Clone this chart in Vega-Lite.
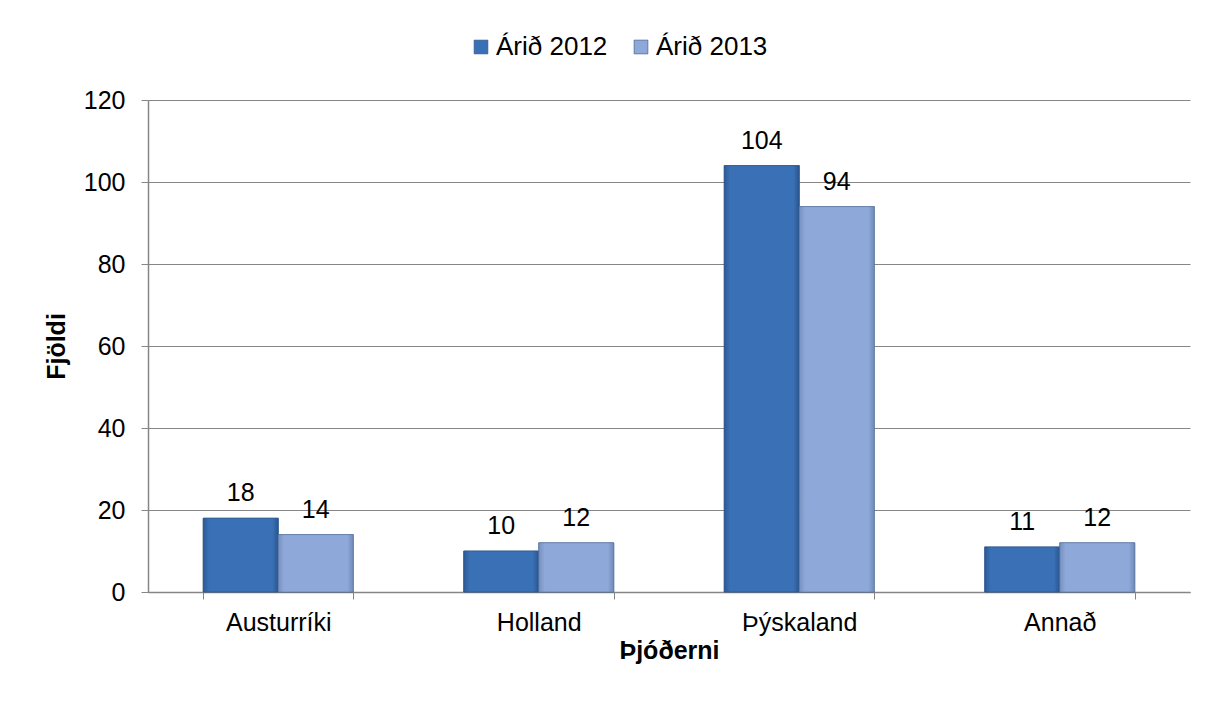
{
  "$schema": "https://vega.github.io/schema/vega-lite/v6.json",
  "autosize": "none",
  "width": 1042,
  "height": 492,
  "padding": {"left": 148, "top": 100, "right": 25, "bottom": 110},
  "background": "white",
  "config": {
    "font": "Liberation Sans",
    "view": {"stroke": null},
    "axis": {"labelFont": "Liberation Sans", "titleFont": "Liberation Sans", "labelColor": "#000", "titleColor": "#000", "domainColor": "#868686", "tickColor": "#868686", "gridColor": "#868686"}
  },
  "data": {
    "values": [
      {"land": "Austurríki", "ar": "Árið 2012", "fjoldi": 18},
      {"land": "Austurríki", "ar": "Árið 2013", "fjoldi": 14},
      {"land": "Holland", "ar": "Árið 2012", "fjoldi": 10},
      {"land": "Holland", "ar": "Árið 2013", "fjoldi": 12},
      {"land": "Þýskaland", "ar": "Árið 2012", "fjoldi": 104},
      {"land": "Þýskaland", "ar": "Árið 2013", "fjoldi": 94},
      {"land": "Annað", "ar": "Árið 2012", "fjoldi": 11},
      {"land": "Annað", "ar": "Árið 2013", "fjoldi": 12}
    ]
  },
  "encoding": {
    "x": {
      "field": "land", "type": "nominal", "sort": null,
      "scale": {"paddingInner": 0.424, "paddingOuter": 0.212},
      "axis": {"title": "Þjóðerni", "labelAngle": 0, "labelFontSize": 25, "titleFontSize": 25, "titleFontWeight": "bold", "tickBand": "extent", "tickSize": 7, "labelPadding": 11, "titlePadding": 3, "domainWidth": 1.5}
    },
    "xOffset": {"field": "ar", "type": "nominal", "sort": ["Árið 2012", "Árið 2013"]},
    "y": {
      "field": "fjoldi", "type": "quantitative",
      "scale": {"domain": [0, 120]},
      "axis": {"title": "Fjöldi", "values": [0, 20, 40, 60, 80, 100, 120], "labelFontSize": 25, "titleFontSize": 25, "titleFontWeight": "bold", "tickSize": 7, "labelPadding": 16, "titlePadding": 14, "grid": true, "gridWidth": 1.2, "domainWidth": 1.5}
    }
  },
  "layer": [
    {
      "mark": {"type": "bar", "stroke": "#2c4f7c", "strokeWidth": 0.6},
      "encoding": {
        "color": {
          "field": "ar", "type": "nominal",
          "scale": {"domain": ["Árið 2012", "Árið 2013"], "range": ["#3a71b6", "#8ea9d9"]},
          "legend": {"title": null, "orient": "none", "direction": "horizontal", "legendX": 320, "legendY": -66, "labelFontSize": 26, "labelColor": "#000", "symbolType": "square", "symbolSize": 190, "symbolStrokeColor": "#2c4f7c", "symbolStrokeWidth": 0.6, "columnPadding": 20, "labelOffset": 2}
        }
      }
    },
    {
      "transform": [{"filter": "datum.ar === 'Árið 2012'"}],
      "mark": {"type": "bar", "stroke": "#2a5288", "strokeWidth": 0.6,
        "fill": {"gradient": "linear", "x1": 0, "y1": 0, "x2": 1, "y2": 0,
          "stops": [{"offset": 0, "color": "#2c5b97"}, {"offset": 0.08, "color": "#3a71b6"}, {"offset": 0.92, "color": "#3a71b6"}, {"offset": 1, "color": "#2a5590"}]}}
    },
    {
      "transform": [{"filter": "datum.ar === 'Árið 2013'"}],
      "mark": {"type": "bar", "stroke": "#5a74a0", "strokeWidth": 0.6,
        "fill": {"gradient": "linear", "x1": 0, "y1": 0, "x2": 1, "y2": 0,
          "stops": [{"offset": 0, "color": "#7690c0"}, {"offset": 0.08, "color": "#8ea9d9"}, {"offset": 0.92, "color": "#8ea9d9"}, {"offset": 1, "color": "#7189b6"}]}}
    },
    {
      "mark": {"type": "text", "baseline": "alphabetic", "dy": -17, "fontSize": 25, "color": "#000"},
      "encoding": {"text": {"field": "fjoldi", "type": "quantitative"}}
    }
  ]
}
